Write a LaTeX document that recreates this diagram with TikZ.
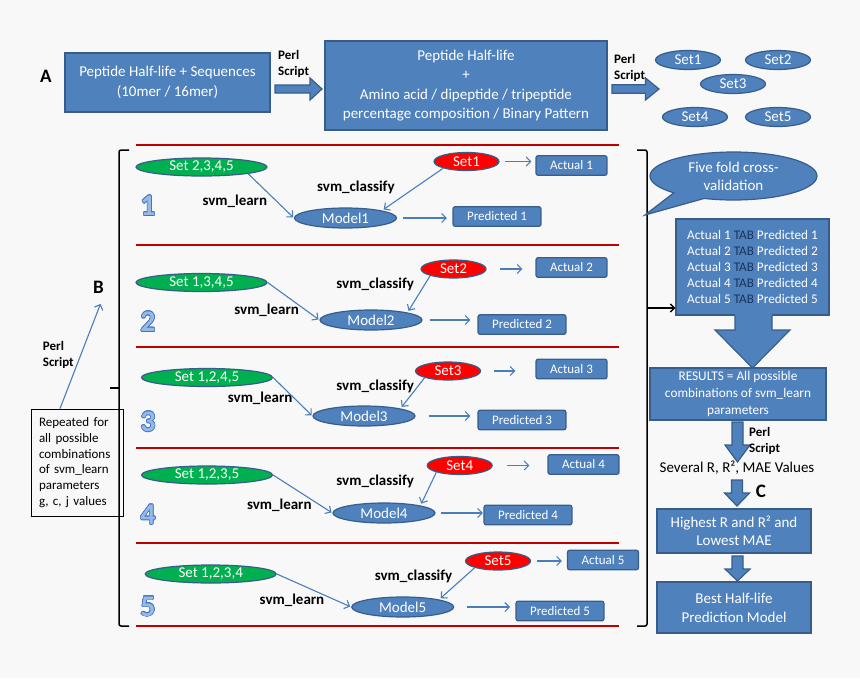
\documentclass[tikz,border=0pt]{standalone}
\usepackage{fontspec}
\setmainfont{Carlito}
\usepackage{contour}
\contourlength{0.6pt}
\usetikzlibrary{shapes.geometric,shapes.callouts,arrows.meta}

\definecolor{bgcol}{RGB}{248,248,248}
\definecolor{boxblue}{RGB}{79,129,189}
\definecolor{boxedge}{RGB}{56,93,138}
\definecolor{arrowblue}{RGB}{74,126,187}
\definecolor{setgreen}{RGB}{0,176,80}
\definecolor{setred}{RGB}{255,0,0}
\definecolor{darkred}{RGB}{192,0,0}
\definecolor{tabnavy}{RGB}{23,55,94}
\definecolor{numfill}{RGB}{150,186,230}
\definecolor{numedge}{RGB}{68,114,196}

% x0, head base, tip, y, half shaft, half head
\newcommand{\blockright}[6]{%
  \draw[blockarr] (#1,#4-#5) -- (#2,#4-#5) -- (#2,#4-#6) -- (#3,#4) -- (#2,#4+#6) -- (#2,#4+#5) -- (#1,#4+#5) -- cycle;}
% x, top, head base, tip, half shaft, half head
\newcommand{\blockdown}[6]{%
  \draw[blockarr] (#1-#5,#2) -- (#1+#5,#2) -- (#1+#5,#3) -- (#1+#6,#3) -- (#1,#4) -- (#1-#6,#3) -- (#1-#5,#3) -- cycle;}

\tikzset{
  box/.style={draw=boxedge, line width=1.2pt, fill=boxblue, text=white, align=center, inner sep=0pt, font=\fontsize{15}{19.5}\selectfont},
  result/.style={draw=boxedge, line width=1.2pt, fill=boxblue, text=white, rounded corners=2pt, inner xsep=14pt, inner ysep=0pt, minimum height=19.5pt, font=\fontsize{13}{15}\selectfont},
  oval/.style={ellipse, draw=boxedge, line width=1.2pt, text=white, inner sep=0pt, font=\fontsize{15}{18}\selectfont},
  setell/.style={oval, fill=boxblue, minimum width=65pt, minimum height=19pt},
  trainset/.style={oval, fill=setgreen, minimum width=131pt, minimum height=18pt},
  testset/.style={oval, fill=setred, minimum width=65pt, minimum height=18pt},
  model/.style={oval, fill=boxblue, minimum width=102pt, minimum height=20pt},
  lab/.style={inner sep=0pt, font=\fontsize{15}{18}\selectfont\bfseries},
  perl/.style={inner sep=0pt, anchor=west, align=left, font=\fontsize{13}{15.5}\selectfont\bfseries},
  letter/.style={inner sep=0pt, font=\fontsize{19}{19}\selectfont\bfseries},
  foldnum/.style={inner sep=0pt, text=numfill, font=\fontsize{30}{30}\selectfont\bfseries},
  flow/.style={draw=arrowblue, line width=1.1pt, -{Straight Barb[length=4.5pt,width=9pt]}},
  bracket/.style={draw=black, line width=1.5pt, rounded corners=2pt},
  blockarr/.style={draw=boxedge, line width=1.2pt, fill=boxblue},
}

\begin{document}
\begin{tikzpicture}[x=1pt,y=-1pt]
\useasboundingbox (0,0) rectangle (860,678);
\fill[bgcol] (0,0) rectangle (860,678);

% A: data preparation
\node[letter] (labA) at (46,76.5) {A};
\node[box, minimum width=205pt, minimum height=59pt] (src) at (167.5,82.5) {Peptide Half-life + Sequences\\(10mer / 16mer)};
\node[box, minimum width=282pt, minimum height=89pt] (feat) at (466,85.5) {Peptide Half-life\\+\\Amino acid / dipeptide / tripeptide\\percentage composition / Binary Pattern};
\node[perl] (perl1) at (278,64) {Perl\\Script};
\node[perl] (perl2) at (614,68) {Perl\\Script};
\blockright{275}{310}{322}{89}{4}{11}
\blockright{612}{645.5}{659}{89}{4.2}{11}
\foreach \n/\x/\y in {1/688/60, 2/778/60, 3/733/84, 4/695/117, 5/778/117}
  \node[setell] (set\n) at (\x,\y) {Set\n};

% B: five folds
\foreach \y in {145,245,347,448,543,626}
  \draw[darkred, line width=1.2pt] (136,\y) -- (619,\y);
\draw[bracket] (129,150) -- (119,150) -- (119,626) -- (129,626);
\draw[bracket] (119,388) -- (110,388);
\draw[bracket] (637,150) -- (647,150) -- (647,626) -- (637,626);

\foreach \i/\tr/\gx/\gy/\mx/\my/\sx/\sy in {
  1/{2,3,4,5}/201.5/167/345.5/218/466.5/161.5,
  2/{1,3,4,5}/201.5/282.5/371/320/453.5/269,
  3/{1,2,4,5}/207/377.5/364/416/448/371,
  4/{1,2,3,5}/207/475/384/513/459.7/465.5,
  5/{1,2,3,4}/210.7/574/402.7/607/498/561}{
  \node[trainset] (tr\i) at (\gx,\gy) {Set \tr};
  \node[model] (m\i) at (\mx,\my) {Model\i};
  \node[testset] (ts\i) at (\sx,\sy) {Set\i};
}
\foreach \i/\ax/\ay/\px/\py/\ny in {
  1/571.5/165.5/497/216.5/206,
  2/571.5/267.5/522/324.5/322,
  3/571.5/369/522/420/422,
  4/583.5/464.5/528/515/515,
  5/603/560/560/611/607}{
  \node[result] (act\i) at (\ax,\ay) {Actual \i};
  \node[result] (pred\i) at (\px,\py) {Predicted \i};
  \node[foldnum] (num\i) at (148,\ny) {\contour{numedge}{\i}};
}
\foreach \i/\lx/\ly/\cx/\cy in {
  1/234.8/201.7/355.9/187.3,
  2/266.7/310/375.2/284,
  3/260.2/398.3/375.2/386,
  4/279.3/505/375.2/481.7,
  5/292/600.7/413.6/576.7}{
  \node[lab] (learn\i) at (\lx,\ly) {svm\_learn};
  \node[lab] (classify\i) at (\cx,\cy) {svm\_classify};
}
\foreach \i/\ga/\sa/\sb/\pa/\pb in {
  1/south east/5/4/6/5.5,
  2/east/13.6/13/7/7,
  3/east/12.5/20/13/7,
  4/east/14/18/5.5/0.5,
  5/east/6/5/12.6/5.4}{
  \draw[flow, shorten >=1pt] (tr\i.\ga) -- (m\i.west);
  \draw[flow, shorten >=2pt] (ts\i.south west) -- (m\i.north east);
  \draw[flow, shorten <=\sa pt, shorten >=\sb pt] (ts\i.east) -- (ts\i.east -| act\i.west);
  \draw[flow, shorten <=\pa pt, shorten >=\pb pt] (m\i.east) -- (m\i.east -| pred\i.west);
}

\node[letter] (labB) at (98.5,287.5) {B};
\node[draw=black, line width=0.8pt, align=left, text width=76pt, inner xsep=8pt, inner ysep=0pt, minimum height=107pt, font=\fontsize{13}{15.7}\selectfont] (rep) at (77,462.5) {Repeated for\\all possible\\combinations\\of svm\_learn\\parameters\\g, c, j values};
\node[perl] (perl3) at (42.7,355) {Perl\\Script};
\draw[flow] ([xshift=-17pt]rep.north) -- ([shift={(2pt,-10pt)}]labB.south);

% C: evaluation
\node[ellipse callout, draw=boxedge, line width=1.2pt, fill=boxblue, text=white, align=center, inner sep=0pt, minimum width=167pt, minimum height=48pt, callout absolute pointer={(645,215)}, callout pointer arc=25, font=\fontsize{15}{18}\selectfont] (cv) at (733.5,176) {Five fold cross-\\validation};
\node[box, minimum width=153pt, minimum height=96pt, font=\fontsize{13.2}{16}\selectfont] (tabbox) at (752.5,267) {Actual 1 \textcolor{tabnavy}{TAB} Predicted 1\\Actual 2 \textcolor{tabnavy}{TAB} Predicted 2\\Actual 3 \textcolor{tabnavy}{TAB} Predicted 3\\Actual 4 \textcolor{tabnavy}{TAB} Predicted 4\\Actual 5 \textcolor{tabnavy}{TAB} Predicted 5};
\fill[boxblue] (735,313) -- (735,330) -- (715,330) -- (752.5,368) -- (790,330) -- (772,330) -- (772,313) -- cycle;
\draw[boxedge, line width=1.2pt] (735,315.6) -- (735,330) -- (715,330) -- (752.5,368) -- (790,330) -- (772,330) -- (772,315.6);
\coordinate (brR) at (647,308);
\draw[bracket, -{Straight Barb[length=4pt,width=8pt]}] (brR) -- (tabbox.west |- brR);

\node[box, minimum width=176pt, minimum height=52pt, font=\fontsize{13.3}{16.7}\selectfont] (res) at (738,394) {RESULTS = All possible\\combinations of svm\_learn\\parameters};
\blockdown{737.5}{422}{445}{462}{5.5}{12.5}
\node[perl] (perl4) at (749,441) {Perl\\Script};
\node[inner sep=0pt, font=\fontsize{15}{18}\selectfont] (sev) at (737,468) {Several R, R², MAE Values};
\blockdown{737}{480}{493}{506}{5.5}{12.5}
\node[letter] (labC) at (761,491) {C};
\node[box, minimum width=154pt, minimum height=44pt, font=\fontsize{15}{18}\selectfont] (best) at (734,531) {Highest R and R² and\\Lowest MAE};
\blockdown{737.5}{556}{569}{581}{5.5}{12.5}
\node[box, minimum width=154pt, minimum height=51pt, font=\fontsize{15}{19}\selectfont] (final) at (734,607.5) {Best Half-life\\Prediction Model};
\end{tikzpicture}
\end{document}
